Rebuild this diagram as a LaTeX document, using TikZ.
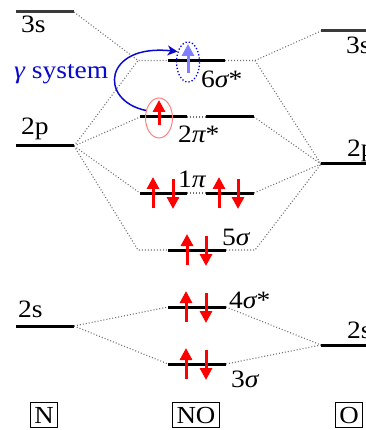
\documentclass[tikz,border=0pt]{standalone}
\usepackage{fontspec}
\setmainfont{Liberation Serif}
\newfontfamily\lserif{Liberation Serif}[FakeStretch=1.1]
\usetikzlibrary{arrows.meta,shapes.geometric}
\definecolor{dgray}{HTML}{3A3A3A}
\definecolor{dotgray}{HTML}{707070}
\definecolor{gblue}{HTML}{0A0ACC}
\definecolor{lav}{HTML}{8080FF}
\definecolor{pinkc}{HTML}{FF8080}
\begin{document}
\begin{tikzpicture}[x=1pt,y=-1pt,
  lvl/.style={line width=3pt},
  glvl/.style={line width=3pt,dgray},
  conn/.style={dotgray,line width=1.1pt,dash pattern=on 1pt off 2pt},
  el/.style={red,line width=3pt,-{Triangle[width=12pt,length=12pt]}},
  lab/.style={font=\lserif\fontsize{25}{30}\selectfont,inner sep=0pt,anchor=base west},
  boxlab/.style={draw,line width=0.8pt,font=\lserif\fontsize{24.5}{30}\selectfont,inner xsep=4pt,inner ysep=4pt,text height=16.5pt,text depth=0pt},
  gam/.style={gblue,line width=1.5pt,-{Stealth[length=10pt,width=10pt,inset=3pt]}}]
\useasboundingbox (0,0) rectangle (365,430);
% atomic levels N
\coordinate (N3sL) at (16,12);  \coordinate (N3sR) at (74,12);
\coordinate (N2pL) at (16,146); \coordinate (N2pR) at (74,146);
\coordinate (N2sL) at (16,326); \coordinate (N2sR) at (74,326);
% atomic levels O
\coordinate (O3sL) at (321,31);  \coordinate (O3sR) at (380,31);
\coordinate (O2pL) at (321,164); \coordinate (O2pR) at (380,164);
\coordinate (O2sL) at (321,345); \coordinate (O2sR) at (380,345);
% molecular levels
\coordinate (s6J1) at (138,60.5); \coordinate (s6L) at (168,60.5); \coordinate (s6R) at (225,60.5); \coordinate (s6J2) at (255,60.5);
\coordinate (p2L) at (140,117); \coordinate (p2a) at (187,117); \coordinate (p2b) at (206,117); \coordinate (p2R) at (254,117);
\coordinate (p1L) at (140,193); \coordinate (p1a) at (187,193); \coordinate (p1b) at (206,193); \coordinate (p1R) at (254,193);
\coordinate (s5J1) at (138,250); \coordinate (s5L) at (168,250); \coordinate (s5R) at (226,250); \coordinate (s5J2) at (255,250);
\coordinate (s4L) at (168,307); \coordinate (s4R) at (226,307);
\coordinate (s3L) at (168,364); \coordinate (s3R) at (226,364);
% connectors
\draw[conn] (N3sR) -- (s6J1) -- (s6L);
\draw[conn] (N2pR) -- (s6J1);
\draw[conn] (s6R) -- (s6J2) -- (O3sL);
\draw[conn] (s6J2) -- (O2pL);
\draw[conn] (N2pR) -- (p2L);
\draw[conn] (p2a) -- (p2b);
\draw[conn] (p2R) -- (O2pL);
\draw[conn] (N2pR) -- (p1L);
\draw[conn] (p1a) -- (p1b);
\draw[conn] (p1R) -- (O2pL);
\draw[conn] (N2pR) -- (s5J1) -- (s5L);
\draw[conn] (s5R) -- (s5J2) -- (O2pL);
\draw[conn] (N2sR) -- (s4L);
\draw[conn] (N2sR) -- (s3L);
\draw[conn] (s4R) -- (O2sL);
\draw[conn] (s3R) -- (O2sL);
% levels
\draw[glvl] (N3sL) -- (N3sR);
\draw[lvl] (N2pL) -- (N2pR);
\draw[lvl] (N2sL) -- (N2sR);
\draw[glvl] (O3sL) -- (O3sR);
\draw[lvl] (O2pL) -- (O2pR);
\draw[lvl] (O2sL) -- (O2sR);
\draw[lvl] (s6L) -- (s6R);
\draw[lvl] (p2L) -- (p2a);
\draw[lvl] (p2b) -- (p2R);
\draw[lvl] (p1L) -- (p1a);
\draw[lvl] (p1b) -- (p1R);
\draw[lvl] (s5L) -- (s5R);
\draw[lvl] (s4L) -- (s4R);
\draw[lvl] (s3L) -- (s3R);
% electrons
\draw[el] (153,208) -- (153,177);
\draw[el] (173,179) -- (173,209);
\draw[el] (219,208) -- (219,177);
\draw[el] (238,179) -- (238,209);
\draw[el] (187,265) -- (187,234);
\draw[el] (206,236) -- (206,266);
\draw[el] (186,322) -- (186,291);
\draw[el] (206,293) -- (206,323);
\draw[el] (186,379) -- (186,348);
\draw[el] (206,350) -- (206,380);
\draw[el] (159,125) -- (159,100);
\draw[el,lav] (188,73) -- (188,44);
% ellipses
\node[ellipse,draw=pinkc,line width=1pt,minimum width=27pt,minimum height=40pt,inner sep=0pt] (pe) at (159,118) {};
\node[ellipse,draw=blue,dotted,line width=1.3pt,minimum width=23pt,minimum height=40pt,inner sep=0pt] (be) at (188,62) {};
\draw[gam] (pe.150) .. controls +(-48,-10) and +(-74,-8) .. (be.135);
% labels
\node[lab] (tN3s) at (21,33) {3s};
\node[lab] (tN2p) at (21,135) {2p};
\node[lab] (tN2s) at (18,317) {2s};
\node[lab] (tO3s) at (346,54) {3s};
\node[lab] (tO2p) at (347,157) {2p};
\node[lab] (tO2s) at (347,338) {2s};
\node[lab] (t6s) at (201,88) {6{\itshape σ}*};
\node[lab] (t2p) at (178,143) {2{\itshape π}*};
\node[lab] (t1p) at (178,187) {1{\itshape π}};
\node[lab] (t5s) at (222,245) {5{\itshape σ}};
\node[lab] (t4s) at (229,308) {4{\itshape σ}*};
\node[lab] (t3s) at (231,387) {3{\itshape σ}};
\node[lab,text=gblue] (tgam) at (14,79) {{\itshape γ} system};
% boxes
\node[boxlab] (bN) at (44,415) {N};
\node[boxlab] (bNO) at (196,415) {NO};
\node[boxlab] (bO) at (349,415) {O};
\end{tikzpicture}
\end{document}
